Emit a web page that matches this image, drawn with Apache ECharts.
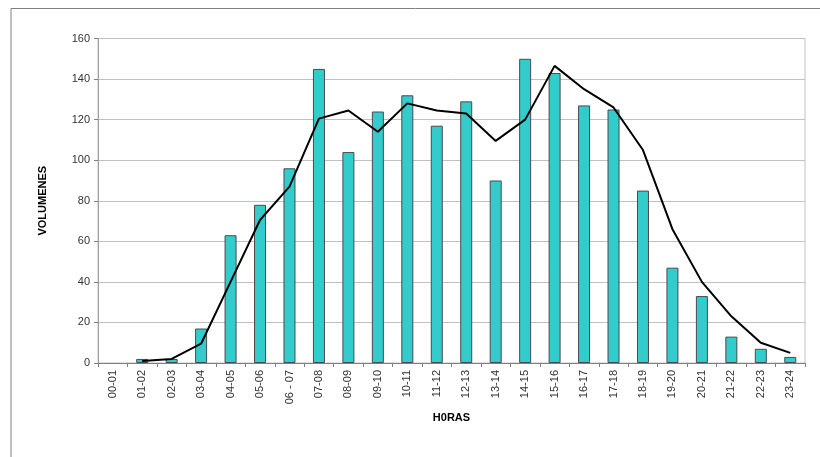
<!DOCTYPE html>
<html>
<head>
<meta charset="utf-8">
<script src="https://cdn.jsdelivr.net/npm/echarts@6/dist/echarts.min.js"></script>
<style>
html, body { margin: 0; padding: 0; background: #fff; }
#container { width: 820px; height: 457px; }
</style>
</head>
<body>
<div id="container"></div>
<script>
var horas = ['00-01', '01-02', '02-03', '03-04', '04-05', '05-06', '06 - 07', '07-08',
    '08-09', '09-10', '10-11', '11-12', '12-13', '13-14', '14-15', '15-16', '16-17',
    '17-18', '18-19', '19-20', '20-21', '21-22', '22-23', '23-24'];
var volumenes = [0, 2, 2, 17, 63, 78, 96, 145, 104, 124, 132, 117, 129, 90, 150, 143, 127,
    125, 85, 47, 33, 13, 7, 3];
// trend line
var tendencia = [null, 1, 2, 9.5, 40, 70.5, 87, 120.5, 124.5, 114, 128, 124.5, 123, 109.5,
    120, 146.5, 135, 126, 105, 66, 40, 23, 10, 5];

// zero bars get no border so nothing shows
var barData = volumenes.map(function (v) {
    return v === 0 ? { value: v, itemStyle: { borderWidth: 0 } } : v;
});

var dom = document.getElementById("container");
var myChart = echarts.init(dom);
var option = {
    animation: false,
    backgroundColor: '#fff',
    graphic: [{
        type: 'polyline',
        shape: { points: [[11, 457], [11, 8.5], [820, 8.5]] },
        style: { stroke: '#808080', lineWidth: 1, fill: null }
    }],
    grid: {
        left: 98, right: 15, top: 38.5, bottom: 94,
        show: true, borderColor: '#c0c0c0', borderWidth: 1
    },
    xAxis: {
        type: 'category',
        data: horas,
        name: 'H0RAS',
        nameLocation: 'middle',
        nameGap: 48,
        nameTextStyle: { fontFamily: 'Liberation Sans', fontWeight: 'bold', fontSize: 11, color: '#000' },
        axisLine: { lineStyle: { color: '#808080' } },
        axisTick: { show: true, alignWithLabel: false, length: 4, lineStyle: { color: '#808080' } },
        axisLabel: { rotate: 90, interval: 0, fontFamily: 'Liberation Sans', fontSize: 11, color: '#333', margin: 7 }
    },
    yAxis: {
        type: 'value',
        min: 0, max: 160, interval: 20,
        name: 'VOLUMENES',
        nameLocation: 'middle',
        nameGap: 50,
        nameRotate: 90,
        nameTextStyle: { fontFamily: 'Liberation Sans', fontWeight: 'bold', fontSize: 11, color: '#000' },
        axisLine: { show: true, lineStyle: { color: '#a0a0a0' } },
        axisTick: { show: true, length: 4, lineStyle: { color: '#808080' } },
        axisLabel: { fontFamily: 'Liberation Sans', fontSize: 11, color: '#333', margin: 8 },
        splitLine: { lineStyle: { color: '#c0c0c0', width: 1 } }
    },
    series: [{
        name: 'Volumenes',
        type: 'bar',
        data: barData,
        barWidth: 12,
        itemStyle: { color: '#33cccc', borderColor: '#4a4a4a', borderWidth: 1 }
    }, {
        name: 'Tendencia',
        type: 'line',
        data: tendencia,
        symbol: 'none',
        lineStyle: { color: '#000', width: 2 }
    }]
};
myChart.setOption(option, true);
</script>
</body>
</html>
